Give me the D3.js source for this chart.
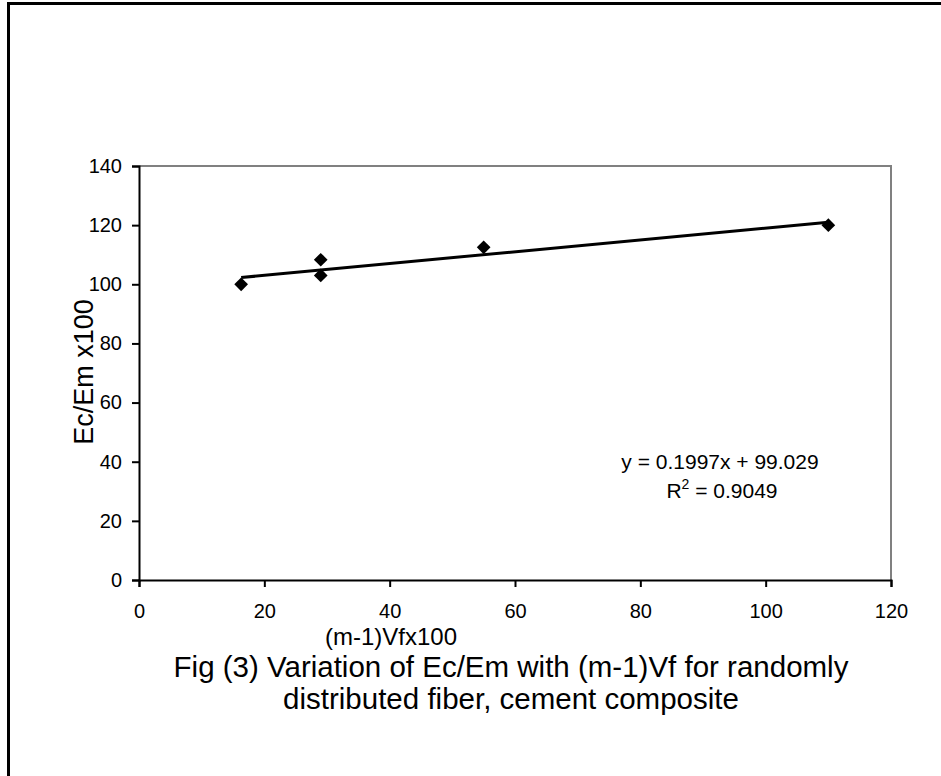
<!DOCTYPE html>
<html>
<head>
<meta charset="utf-8">
<script src="https://cdn.jsdelivr.net/npm/d3@7"></script>
<style>
  body { margin: 0; background: #fff; }
  svg { display: block; font-family: "Liberation Sans", Arial, sans-serif; }
</style>
</head>
<body>
<div id="chart"></div>
<script>
'use strict';

var xValues = [16.3, 29, 29, 55, 110];
var yValues = [100, 108.3, 103, 112.5, 120];

// Linear trend line reported on the chart.
var slope = 0.1997;
var intercept = 99.029;
var trendLabel = 'y = 0.1997x + 99.029';
var r2Value = '0.9049';

var xTicks = [0, 20, 40, 60, 80, 100, 120];
var yTicks = [0, 20, 40, 60, 80, 100, 120, 140];

var width = 941;
var height = 776;

var svg = d3.select('#chart').append('svg')
  .attr('width', width)
  .attr('height', height);

// Outer frame (right/bottom edges fall outside the picture).
svg.append('rect')
  .attr('x', 8.5)
  .attr('y', 3.5)
  .attr('width', 960)
  .attr('height', 800)
  .attr('fill', 'none')
  .attr('stroke', '#000')
  .attr('stroke-width', 3);

var plot = { left: 139, right: 891, top: 166, bottom: 580 };

var x = d3.scaleLinear().domain([0, 120]).range([plot.left, plot.right]);
var y = d3.scaleLinear().domain([0, 140]).range([plot.bottom, plot.top]);

// Gray top/right plot border.
svg.append('path')
  .attr('d', 'M' + plot.left + ',' + plot.top + 'H' + plot.right + 'V' + plot.bottom)
  .attr('fill', 'none')
  .attr('stroke', '#808080')
  .attr('stroke-width', 2);

var xAxis = svg.append('g')
  .attr('transform', 'translate(0,' + plot.bottom + ')')
  .call(d3.axisBottom(x).tickValues(xTicks).tickSize(7).tickPadding(10));

var yAxis = svg.append('g')
  .attr('transform', 'translate(' + plot.left + ',0)')
  .call(d3.axisLeft(y).tickValues(yTicks).tickSize(7).tickPadding(10));

[xAxis, yAxis].forEach(function(g) {
  g.select('.domain').attr('stroke', '#000').attr('stroke-width', 2);
  g.selectAll('.tick line').attr('stroke', '#000').attr('stroke-width', 2);
  g.selectAll('.tick text')
    .attr('fill', '#000')
    .style('font-size', '20px')
    .style('font-family', '"Liberation Sans", Arial, sans-serif');
});
xAxis.selectAll('.tick text').attr('y', 38).attr('dy', 0);
yAxis.selectAll('.tick text').attr('x', -17);

// Trend line across the data range.
var xMin = d3.min(xValues);
var xMax = d3.max(xValues);
svg.append('line')
  .attr('x1', x(xMin))
  .attr('y1', y(slope * xMin + intercept))
  .attr('x2', x(xMax))
  .attr('y2', y(slope * xMax + intercept))
  .attr('stroke', '#000')
  .attr('stroke-width', 3);

// Diamond markers.
var diamond = d3.symbol().type(d3.symbolDiamond2).size(120);
svg.selectAll('.pt')
  .data(xValues)
  .enter().append('path')
  .attr('class', 'pt')
  .attr('d', diamond)
  .attr('transform', function(d, i) {
    return 'translate(' + x(d) + ',' + y(yValues[i]) + ')';
  })
  .attr('fill', '#000');

// Trend equation.
svg.append('text')
  .attr('x', 720)
  .attr('y', 469)
  .attr('text-anchor', 'middle')
  .style('font-size', '21px')
  .text(trendLabel);

var r2 = svg.append('text')
  .attr('x', 722)
  .attr('y', 498)
  .attr('text-anchor', 'middle')
  .style('font-size', '21px');
r2.append('tspan').text('R');
r2.append('tspan').attr('dy', -9).style('font-size', '14px').text('2');
r2.append('tspan').attr('dy', 9).text(' = ' + r2Value);

// Axis titles.
svg.append('text')
  .attr('transform', 'translate(93,372) rotate(-90)')
  .attr('text-anchor', 'middle')
  .style('font-size', '27px')
  .text('Ec/Em x100');

svg.append('text')
  .attr('x', 391)
  .attr('y', 645)
  .attr('text-anchor', 'middle')
  .style('font-size', '24px')
  .text('(m-1)Vfx100');

// Caption.
svg.append('text')
  .attr('x', 511)
  .attr('y', 677)
  .attr('text-anchor', 'middle')
  .style('font-size', '29.5px')
  .text('Fig (3) Variation of Ec/Em with (m-1)Vf for randomly');

svg.append('text')
  .attr('x', 511)
  .attr('y', 709)
  .attr('text-anchor', 'middle')
  .style('font-size', '29.5px')
  .text('distributed fiber, cement composite');
</script>
</body>
</html>
